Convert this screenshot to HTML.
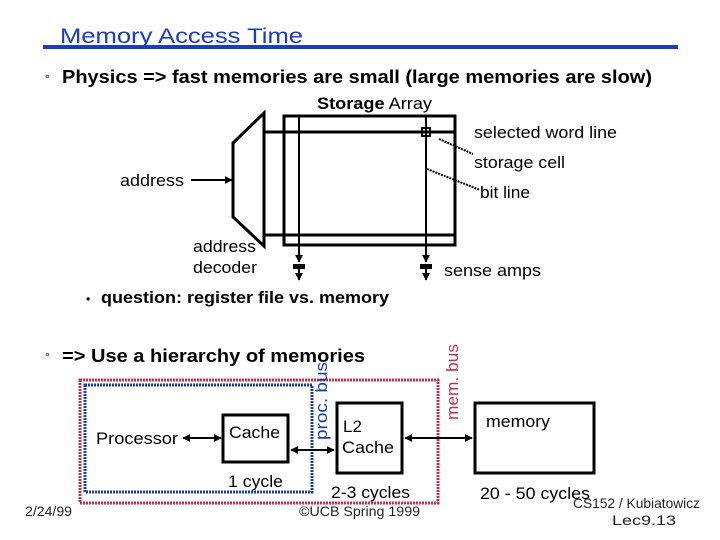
<!DOCTYPE html>
<html><head><meta charset="utf-8"><style>
body{margin:0;background:#fff}
svg{display:block}
text{font-family:"Liberation Sans",Arial,sans-serif}
</style></head><body>
<svg width="720" height="540" viewBox="0 0 720 540" xmlns="http://www.w3.org/2000/svg">
<defs>
<marker id="a" viewBox="0 0 10 10" refX="9" refY="5" markerWidth="4" markerHeight="4" orient="auto-start-reverse"><path d="M0,0L10,5L0,10z" fill="#000"/></marker>
</defs>
<text x="60" y="43" font-size="21" fill="#1a3cc0" textLength="243" lengthAdjust="spacingAndGlyphs">Memory Access Time</text>
<rect x="43" y="45" width="635" height="4" fill="#1a3cc0"/>
<text x="45" y="83" font-size="12">°</text>
<text x="62" y="83" font-size="18" font-weight="bold" textLength="590" lengthAdjust="spacingAndGlyphs">Physics =&gt; fast memories are small (large memories are slow)</text>
<text x="317" y="109" font-size="17" textLength="115" lengthAdjust="spacingAndGlyphs"><tspan font-weight="bold">Storage</tspan> Array</text>

<g stroke="#000" fill="none" stroke-width="3">
<polygon points="233,143 264,113 264,246 233,217"/>
<rect x="284" y="116" width="171" height="129"/>
<line x1="264" y1="132" x2="455" y2="132"/>
<line x1="264" y1="235" x2="455" y2="235"/>
</g>
<g stroke="#000" stroke-width="2" fill="none">
<line x1="299" y1="116" x2="299" y2="262" marker-end="url(#a)"/>
<line x1="426" y1="116" x2="426" y2="262" marker-end="url(#a)"/>
<line x1="299" y1="268" x2="299" y2="280" marker-end="url(#a)"/>
<line x1="426" y1="268" x2="426" y2="280" marker-end="url(#a)"/>
<line x1="191" y1="180" x2="232" y2="180" marker-end="url(#a)"/>
</g>
<rect x="293" y="264" width="12" height="5" fill="#000"/>
<rect x="420" y="264" width="12" height="5" fill="#000"/>
<rect x="422" y="128" width="8" height="8" fill="none" stroke="#000" stroke-width="2"/>
<line x1="426" y1="128" x2="426" y2="136" stroke="#000"/>
<g stroke="#000" stroke-width="2" stroke-dasharray="2,1">
<line x1="439" y1="139" x2="473" y2="154"/>
<line x1="427" y1="169" x2="480" y2="190"/>
</g>
<g font-size="17" lengthAdjust="spacingAndGlyphs">
<text x="474" y="138" textLength="143" lengthAdjust="spacingAndGlyphs">selected word line</text>
<text x="474" y="168" textLength="91" lengthAdjust="spacingAndGlyphs">storage cell</text>
<text x="480" y="198" textLength="50" lengthAdjust="spacingAndGlyphs">bit line</text>
<text x="120" y="186" textLength="64" lengthAdjust="spacingAndGlyphs">address</text>
<text x="193" y="252" textLength="63" lengthAdjust="spacingAndGlyphs">address</text>
<text x="193" y="273" textLength="64" lengthAdjust="spacingAndGlyphs">decoder</text>
<text x="444" y="276" textLength="97" lengthAdjust="spacingAndGlyphs">sense amps</text>
</g>
<text x="86" y="303" font-size="12">•</text>
<text x="101" y="303" font-size="17" font-weight="bold" textLength="288" lengthAdjust="spacingAndGlyphs">question: register file vs. memory</text>

<text x="45" y="361" font-size="12">°</text>
<text x="62" y="362" font-size="18" font-weight="bold" textLength="303" lengthAdjust="spacingAndGlyphs">=&gt; Use a hierarchy of memories</text>

<rect x="80" y="380" width="358" height="123" fill="none" stroke="#c0304f" stroke-width="3" stroke-dasharray="2,1"/>
<rect x="85" y="385" width="227" height="107" fill="none" stroke="#1a3ca0" stroke-width="3" stroke-dasharray="2,1"/>
<text transform="translate(327,440) rotate(-90)" font-size="17" fill="#1a3ca0" textLength="78" lengthAdjust="spacingAndGlyphs">proc. bus</text>
<text transform="translate(458,420) rotate(-90)" font-size="17" fill="#c0304f" textLength="76" lengthAdjust="spacingAndGlyphs">mem. bus</text>

<g stroke="#000" stroke-width="3" fill="none">
<rect x="223" y="415" width="65" height="47"/>
<rect x="337" y="403" width="65" height="70"/>
<rect x="475" y="403" width="119" height="70"/>
</g>
<g stroke="#000" stroke-width="2">
<line x1="183" y1="438" x2="221" y2="438" marker-start="url(#a)" marker-end="url(#a)"/>
<line x1="291" y1="450" x2="334" y2="450" marker-start="url(#a)" marker-end="url(#a)"/>
<line x1="405" y1="438" x2="472" y2="438" marker-start="url(#a)" marker-end="url(#a)"/>
</g>
<g font-size="17">
<text x="96" y="444" textLength="82" lengthAdjust="spacingAndGlyphs">Processor</text>
<text x="229" y="438" textLength="51" lengthAdjust="spacingAndGlyphs">Cache</text>
<text x="343" y="432">L2</text>
<text x="342" y="453" textLength="52" lengthAdjust="spacingAndGlyphs">Cache</text>
<text x="486" y="427" textLength="64" lengthAdjust="spacingAndGlyphs">memory</text>
<text x="228" y="487" textLength="55" lengthAdjust="spacingAndGlyphs">1 cycle</text>
<text x="331" y="498" textLength="79" lengthAdjust="spacingAndGlyphs">2-3 cycles</text>
<text x="480" y="499" textLength="110" lengthAdjust="spacingAndGlyphs">20 - 50 cycles</text>
</g>
<g font-size="14" fill="#222">
<text x="25" y="516" textLength="47" lengthAdjust="spacingAndGlyphs">2/24/99</text>
<text x="299" y="516" textLength="121" lengthAdjust="spacingAndGlyphs">©UCB Spring 1999</text>
<text x="573" y="508" textLength="127" lengthAdjust="spacingAndGlyphs">CS152 / Kubiatowicz</text>
<text x="612" y="525" textLength="64" lengthAdjust="spacingAndGlyphs">Lec9.13</text>
</g>
</svg>
</body></html>
